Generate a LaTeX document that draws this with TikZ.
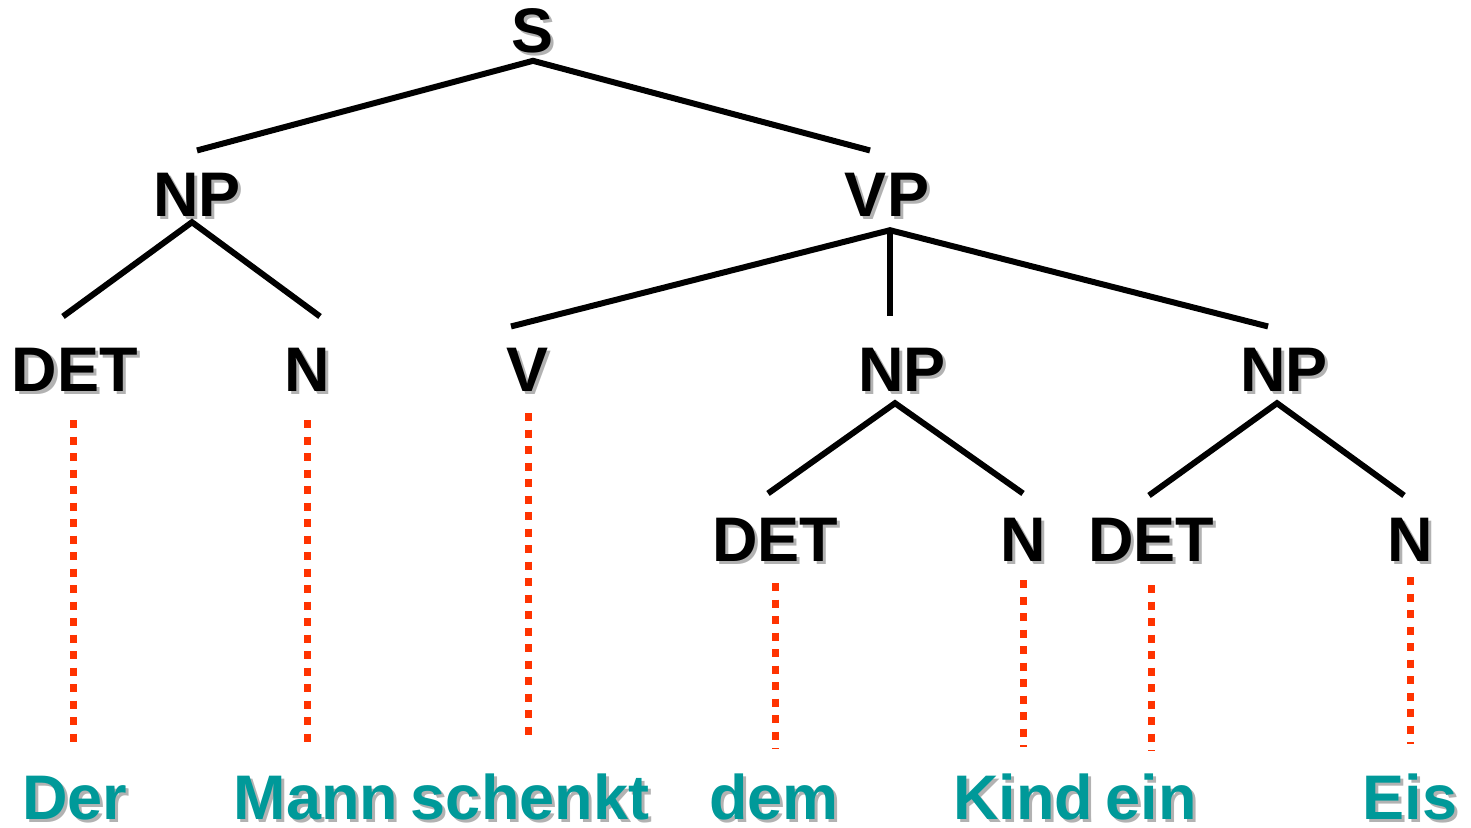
\documentclass[tikz,border=0pt]{standalone}
\usepackage{fontspec}
\setmainfont{Liberation Sans}
\usepackage{tikz}
\usetikzlibrary{calc}

\definecolor{shadowgrey}{RGB}{178,178,178}
\definecolor{wordteal}{RGB}{0,153,153}
\definecolor{dotred}{RGB}{255,51,0}
\newcommand\shadowed[1]{\makebox[0pt][l]{\color{shadowgrey}\kern3pt\raisebox{-3pt}{#1}}#1}

\begin{document}
\begin{tikzpicture}[x=1pt,y=1pt,yscale=-1,xscale=1,
  cat/.style={anchor=base,inner sep=0pt,font=\fontsize{63}{70}\selectfont\bfseries},
  word/.style={cat,text=wordteal,text height=46pt},
  branch/.style={line width=6pt},
  trace/.style={dotred,line width=7pt,dash pattern=on 8pt off 8.5pt}]
\useasboundingbox (0,0) rectangle (1471,827);

% Text Node
\node (S) at (533,52) [cat] {\shadowed{S}};
% Text Node
\node (NPa) at (197,216) [cat] {\shadowed{NP}};
\node (VP) at (887,216) [cat] {\shadowed{VP}};
% Text Node
\node (DETa) at (75,391) [cat] {\shadowed{DET}};
\node (Na) at (307,391) [cat] {\shadowed{N}};
\node (V) at (528,391) [cat] {\shadowed{V}};
\node (NPb) at (902,391) [cat] {\shadowed{NP}};
\node (NPc) at (1284,391) [cat] {\shadowed{NP}};
% Text Node
\node (DETb) at (775,561) [cat] {\shadowed{DET}};
\node (Nb) at (1023,561) [cat] {\shadowed{N}};
\node (DETc) at (1151,561) [cat] {\shadowed{DET}};
\node (Nc) at (1410,561) [cat] {\shadowed{N}};
% Text Node
\node (wDer) at (75,819) [word] {\shadowed{Der}};
\node (wMann) at (316,819) [word] {\shadowed{Mann}};
\node (wschenkt) at (530,819) [word] {\shadowed{schenkt}};
\node (wdem) at (774,819) [word] {\shadowed{dem}};
\node (wKind) at (1023,819) [word] {\shadowed{Kind}};
\node (wein) at (1151,819) [word] {\shadowed{ein}};
\node (wEis) at (1410,819) [word] {\shadowed{Eis}};

%Straight Lines
\draw [branch] ([yshift=-22pt]NPa.north) -- ([yshift=5pt]S.south) -- ([xshift=-17pt,yshift=-22pt]VP.north);
\draw [branch] ([xshift=-12pt,yshift=-31pt]DETa.north) -- ([xshift=-5pt,yshift=3pt]NPa.south) -- ([xshift=13pt,yshift=-31pt]Na.north);
\draw [branch] ([xshift=-17pt,yshift=-21pt]V.north) -- ([xshift=3pt,yshift=11pt]VP.south) -- ([xshift=-16pt,yshift=-21pt]NPc.north);
\draw [branch] ([xshift=3pt,yshift=11pt]VP.south) -- ([xshift=-12pt,yshift=-31pt]NPb.north);
\draw [branch] ([xshift=-7pt,yshift=-24pt]DETb.north) -- ([xshift=-7pt,yshift=9pt]NPb.south) -- ([yshift=-24pt]Nb.north);
\draw [branch] ([xshift=-2pt,yshift=-22pt]DETc.north) -- ([xshift=-7pt,yshift=9pt]NPc.south) -- ([xshift=-6pt,yshift=-22pt]Nc.north);

%Dotted Lines
\draw [trace,shorten <=26pt,shorten >=29pt] ([xshift=-2pt]DETa.south) -- ([xshift=-2pt]DETa.south |- wDer.north);
\draw [trace,shorten <=26pt,shorten >=29pt] (Na.south) -- (Na.south |- wMann.north);
\draw [trace,shorten <=19pt,shorten >=34pt] (V.south) -- (V.south |- wschenkt.north);
\draw [trace,shorten <=19pt,shorten >=24pt] (DETb.south) -- (DETb.south |- wdem.north);
\draw [trace,shorten <=16pt,shorten >=26pt] (Nb.south) -- (Nb.south |- wKind.north);
\draw [trace,shorten <=21pt,shorten >=22pt] (DETc.south) -- (DETc.south |- wein.north);
\draw [trace,shorten <=13pt,shorten >=29pt] (Nc.south) -- (Nc.south |- wEis.north);

\end{tikzpicture}
\end{document}
